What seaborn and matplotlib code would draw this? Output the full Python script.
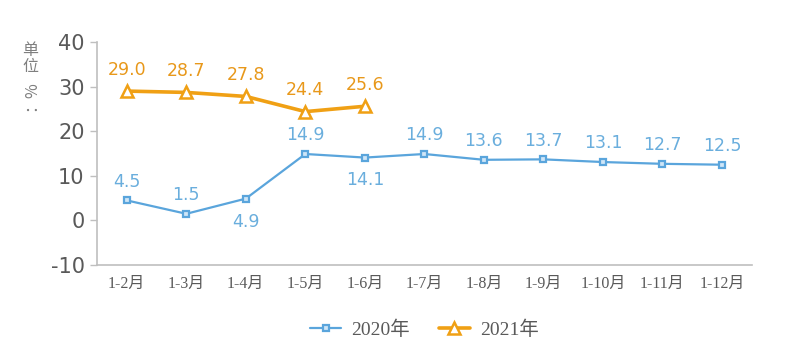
import seaborn as sns
import matplotlib.pyplot as plt
import pandas as pd

months = ["1-2月", "1-3月", "1-4月", "1-5月", "1-6月", "1-7月",
          "1-8月", "1-9月", "1-10月", "1-11月", "1-12月"]
growth_2020 = [4.5, 1.5, 4.9, 14.9, 14.1, 14.9, 13.6, 13.7, 13.1, 12.7, 12.5]
growth_2021 = [29.0, 28.7, 27.8, 24.4, 25.6]
# label below the point for these 2020 entries
below_2020 = [2, 4]

blue = "#5aa5dc"
orange = "#f0a014"

df20 = pd.DataFrame({"x": range(len(months)), "v": growth_2020})
df21 = pd.DataFrame({"x": range(len(growth_2021)), "v": growth_2021})

sns.set_style("white")
plt.rcParams["font.family"] = ["DejaVu Sans", "Noto Sans CJK SC"]
plt.rcParams["axes.unicode_minus"] = False
serif = ["Liberation Serif", "Noto Sans CJK SC"]

fig = plt.figure(figsize=(7.98, 3.53), dpi=100)
ax = fig.add_axes([0.1216, 0.249, 0.8204, 0.632])

sns.lineplot(data=df20, x="x", y="v", ax=ax, color=blue, linewidth=1.6,
             marker="s", markersize=5, markerfacecolor="#cfe6f7",
             markeredgecolor=blue, markeredgewidth=1.6, label="2020年")
sns.lineplot(data=df21, x="x", y="v", ax=ax, color=orange, linewidth=2.6,
             marker="^", markersize=9, markerfacecolor="white",
             markeredgecolor=orange, markeredgewidth=1.8, label="2021年")

for i, v in enumerate(growth_2020):
    if i in below_2020:
        ax.annotate(f"{v:.1f}", (i, v), xytext=(0, -10), textcoords="offset points",
                    ha="center", va="top", color="#6aaedd", fontsize=12.5)
    else:
        ax.annotate(f"{v:.1f}", (i, v), xytext=(0, 7), textcoords="offset points",
                    ha="center", va="bottom", color="#6aaedd", fontsize=12.5)
for i, v in enumerate(growth_2021):
    ax.annotate(f"{v:.1f}", (i, v), xytext=(0, 9), textcoords="offset points",
                ha="center", va="bottom", color="#e8981a", fontsize=12.5)

ax.set_xlim(-0.5, len(months) - 0.5)
ax.set_ylim(-10, 40)
ax.set_yticks([-10, 0, 10, 20, 30, 40])
ax.set_xticks(range(len(months)))
ax.set_xticklabels(months, family=serif, fontsize=11.5, color="#595959")
ax.tick_params(axis="y", labelsize=15, colors="#bfbfbf",
               length=5, width=1, direction="out", left=True, pad=4)
for lab in ax.get_yticklabels():
    lab.set_color("#595959")
ax.tick_params(axis="x", length=0, pad=8)
ax.set_xlabel("")
ax.set_ylabel("")

for s in ["top", "right"]:
    ax.spines[s].set_visible(False)
for s in ["left", "bottom"]:
    ax.spines[s].set_color("#bfbfbf")
    ax.spines[s].set_linewidth(1.2)

fig.text(0.038, 0.835, "单\n位", ha="center", va="center", fontsize=11.5,
         color="#7f7f7f", linespacing=0.95, family=["Noto Sans CJK SC"])
fig.text(0.038, 0.73, "：%", ha="center", va="center", fontsize=11.5,
         color="#7f7f7f", rotation=90, family=["Noto Sans CJK SC"])

leg = ax.legend(loc="upper center", bbox_to_anchor=(0.5, -0.17), ncol=2,
                frameon=False, prop={"family": serif, "size": 14},
                handlelength=1.6, columnspacing=1.5, handletextpad=0.5)
for t in leg.get_texts():
    t.set_color("#595959")

fig.savefig("out.png", dpi=100)
